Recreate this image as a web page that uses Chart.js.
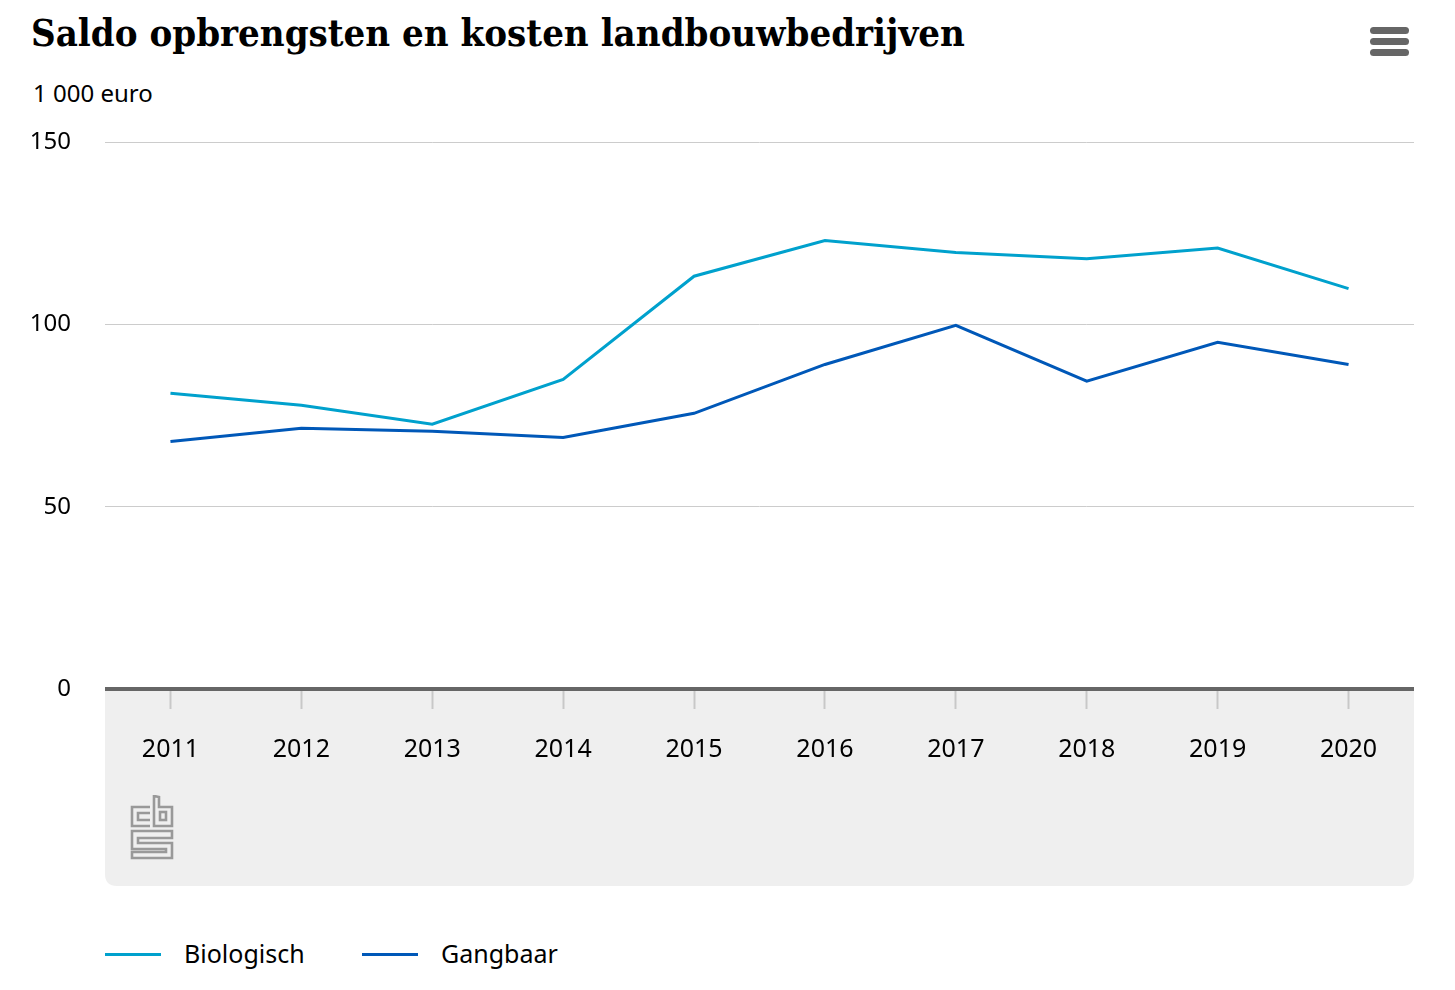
<!DOCTYPE html>
<html lang="nl">
<head>
    <meta charset="UTF-8">
    <title>Saldo opbrengsten en kosten landbouwbedrijven</title>
    <script src="https://cdn.jsdelivr.net/npm/chart.js"></script>
    <style>
        body {
            margin: 0;
            width: 1455px;
            height: 990px;
            position: relative;
            background: #fff;
            font-family: "Noto Sans", "Open Sans", sans-serif;
            overflow: hidden;
        }
        #chartWrap {
            position: absolute;
            left: 0;
            top: 0;
            width: 1455px;
            height: 900px;
        }
        h1 {
            position: absolute;
            left: 31px;
            top: 10px;
            margin: 0;
            font-family: "DejaVu Serif Condensed", "DejaVu Serif", serif;
            font-stretch: condensed;
            font-weight: bold;
            font-size: 38px;
            color: #000;
            white-space: nowrap;
        }
        .unit {
            position: absolute;
            left: 33px;
            top: 76px;
            font-size: 24px;
            color: #000;
        }
        .menu {
            position: absolute;
            left: 1370px;
            top: 27px;
        }
        .menu div {
            width: 39px;
            height: 7px;
            border-radius: 4px;
            background: #666;
            margin-bottom: 4px;
        }
        .legend {
            position: absolute;
            top: 936px;
            left: 105px;
            font-size: 25px;
            color: #000;
        }
        .legend span.item {
            position: absolute;
            white-space: nowrap;
        }
        .legend span.swatch {
            position: absolute;
            top: 17px;
            width: 56px;
            height: 3px;
        }
        .legend span.label {
            position: absolute;
            top: 0;
        }
        .logo {
            position: absolute;
            left: 130px;
            top: 795px;
        }
    </style>
</head>
<body>
    <h1>Saldo opbrengsten en kosten landbouwbedrijven</h1>
    <div class="unit">1 000 euro</div>
    <div class="menu"><div></div><div></div><div></div></div>

    <div id="chartWrap"><canvas id="saldoChart"></canvas></div>

    <svg class="logo" width="45" height="66" viewBox="0 0 45 66" fill="none" stroke="#999" stroke-width="2.6">
        <!-- c -->
        <path d="M20 12 H2 V31 H20 M20 18 H8 V25 H20" />
        <!-- b -->
        <path d="M24 1 V31 H42 V12 H29 V2 Z" />
        <rect x="30" y="17" width="6" height="8" />
        <!-- s -->
        <path d="M2 36 H42 V43 H8 V48 H42 V63 H2 V57 H36 V54 H2 Z" />
    </svg>

    <div class="legend" id="legend"></div>

    <script>
        const years = ['2011', '2012', '2013', '2014', '2015', '2016', '2017', '2018', '2019', '2020'];
        const biologisch = [81.1, 77.8, 72.6, 84.9, 113.2, 123.0, 119.7, 118.0, 120.9, 109.8];
        const gangbaar = [67.9, 71.5, 70.7, 69.0, 75.6, 89.0, 99.7, 84.4, 95.1, 89.0];
        const yTicks = [0, 50, 100, 150];

        const seriesNames = ['Biologisch', 'Gangbaar'];
        const seriesColors = ['#00a1cd', '#0058b8'];

        // grey panel under the x axis + axis line
        const panelPlugin = {
            id: 'panel',
            beforeDraw(chart) {
                const ctx = chart.ctx;
                const area = chart.chartArea;
                const xScale = chart.scales.x;
                const top = area.bottom;
                const bottom = xScale.bottom;
                const r = 12;
                ctx.save();
                ctx.fillStyle = '#efefef';
                ctx.beginPath();
                ctx.moveTo(area.left, top);
                ctx.lineTo(area.right, top);
                ctx.lineTo(area.right, bottom - r);
                ctx.quadraticCurveTo(area.right, bottom, area.right - r, bottom);
                ctx.lineTo(area.left + r, bottom);
                ctx.quadraticCurveTo(area.left, bottom, area.left, bottom - r);
                ctx.closePath();
                ctx.fill();
                ctx.restore();
            },
            afterDatasetsDraw(chart) {
                const ctx = chart.ctx;
                const area = chart.chartArea;
                ctx.save();
                ctx.strokeStyle = '#666';
                ctx.lineWidth = 4;
                ctx.beginPath();
                ctx.moveTo(area.left, area.bottom);
                ctx.lineTo(area.right, area.bottom);
                ctx.stroke();
                ctx.restore();
            }
        };

        new Chart(document.getElementById('saldoChart'), {
            type: 'line',
            data: {
                labels: years,
                datasets: [
                    {
                        label: seriesNames[0],
                        data: biologisch,
                        borderColor: seriesColors[0],
                        backgroundColor: seriesColors[0],
                        borderWidth: 3,
                        pointRadius: 0,
                        tension: 0
                    },
                    {
                        label: seriesNames[1],
                        data: gangbaar,
                        borderColor: seriesColors[1],
                        backgroundColor: seriesColors[1],
                        borderWidth: 3,
                        pointRadius: 0,
                        tension: 0
                    }
                ]
            },
            options: {
                responsive: true,
                maintainAspectRatio: false,
                animation: false,
                layout: {
                    padding: { top: 142, left: 0, right: 41, bottom: 14 }
                },
                plugins: {
                    legend: { display: false },
                    tooltip: { enabled: false }
                },
                scales: {
                    x: {
                        offset: true,
                        grid: {
                            drawOnChartArea: false,
                            drawTicks: true,
                            tickLength: 20,
                            tickColor: '#c8c8c8',
                            tickWidth: 2
                        },
                        border: { display: false },
                        ticks: {
                            color: '#000',
                            padding: 26,
                            maxRotation: 0,
                            font: { family: 'Noto Sans', size: 25 }
                        },
                        afterFit(scale) { scale.height = 197; }
                    },
                    y: {
                        min: 0,
                        max: 150,
                        afterBuildTicks(scale) {
                            scale.ticks = yTicks.map(v => ({ value: v }));
                        },
                        grid: {
                            color: '#cccccc',
                            lineWidth: 1,
                            drawTicks: false
                        },
                        border: { display: false },
                        ticks: {
                            color: '#000',
                            padding: 34,
                            font: { family: 'Noto Sans', size: 24 }
                        },
                        afterFit(scale) { scale.width = 105; }
                    }
                }
            },
            plugins: [panelPlugin]
        });

        // legend
        const legend = document.getElementById('legend');
        const legendX = [0, 257];
        seriesNames.forEach((name, i) => {
            const item = document.createElement('span');
            item.className = 'item';
            item.style.left = legendX[i] + 'px';
            item.innerHTML = '<span class="swatch" style="left:0;background:' + seriesColors[i] + '"></span>' +
                '<span class="label" style="left:79px">' + name + '</span>';
            legend.appendChild(item);
        });
    </script>
</body>
</html>
